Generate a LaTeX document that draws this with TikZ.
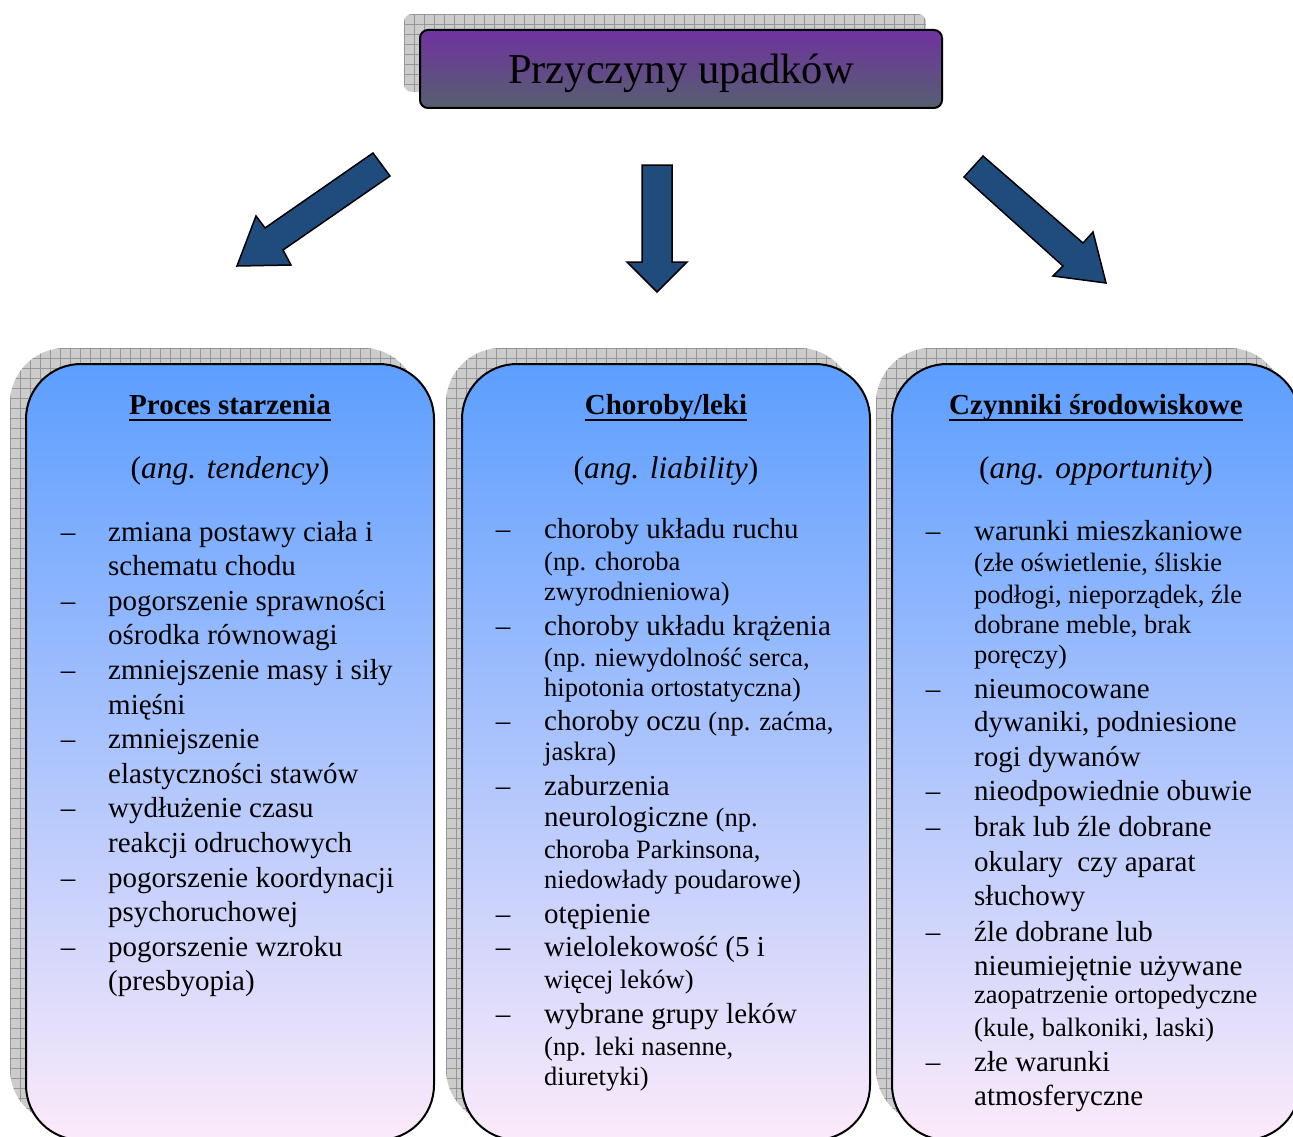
\documentclass[tikz,border=0pt]{standalone}
\usepackage{fontspec}
\setmainfont{Liberation Serif}
\definecolor{boxtop}{RGB}{92,158,255}
\definecolor{boxmid}{RGB}{168,202,246}
\definecolor{boxbot}{RGB}{252,234,250}
\definecolor{titletop}{RGB}{112,50,160}
\definecolor{titlebot}{RGB}{86,96,112}
\definecolor{arrowblue}{RGB}{32,75,125}
\definecolor{shadowgray}{RGB}{204,204,204}
\definecolor{gridgray}{RGB}{150,150,150}
\newcommand\hdline[1]{\setbox0\hbox{\bfseries #1}\rlap{\rule[-7pt]{\wd0}{2pt}}\box0}
\newcommand\sm{\fontsize{26.5}{31}\selectfont}
\tikzset{
  catbox/.style={draw=black,line width=2,rounded corners=55,top color=boxtop,middle color=boxmid,bottom color=boxbot},
  titlebox/.style={draw=black,line width=2,rounded corners=8,top color=titletop,bottom color=titlebot},
  bigarrow/.style={fill=arrowblue,draw=black,line width=1.5,line join=miter},
  itm/.style={anchor=base west,inner sep=0,font=\fontsize{29}{34}\selectfont},
  dsh/.style={anchor=base,inner sep=0,font=\fontsize{29}{34}\selectfont},
  heading/.style={anchor=base,inner sep=0,font=\fontsize{29}{34}\selectfont},
  subheading/.style={anchor=base,inner sep=0,font=\fontsize{31.5}{36}\selectfont}
}
\begin{document}
\begin{tikzpicture}[x=1pt,y=-1pt]
\clip (0,0) rectangle (1293,1137);
% shadows
\begin{scope}
  \clip[rounded corners=8] (404,14) rectangle (926,92);
  \fill[shadowgray] (404,14) rectangle (926,92);
  \foreach \gx in {0,10,...,520} \draw[gridgray,line width=0.8] (404+\gx,14) -- ++(0,78);
  \foreach \gy in {0,10,...,70} \draw[gridgray,line width=0.8] (404,14+\gy) -- ++(522,0);
\end{scope}
\foreach \x in {10,446,876}{
  \begin{scope}
    \clip[rounded corners=55] (\x,348) rectangle ++(408,776);
    \fill[shadowgray] (\x,348) rectangle ++(408,776);
    \foreach \gx in {0,10,...,400} \draw[gridgray,line width=0.8] (\x+\gx,348) -- ++(0,776);
    \foreach \gy in {0,10,...,770} \draw[gridgray,line width=0.8] (\x,348+\gy) -- ++(408,0);
  \end{scope}
}
% title
\draw[titlebox] (420,30) rectangle (942,108);
\node[anchor=base,inner sep=0,font=\fontsize{42.5}{48}\selectfont] (title) at (681,84) {Przyczyny upadków};
% arrows
\draw[bigarrow] (373,153) -- (390,176) -- (283,250) -- (291,265) -- (237,266) -- (256,216) -- (265,228) -- cycle;
\draw[bigarrow] (642,165) -- (672,165) -- (672,262) -- (687,262) -- (657,292) -- (627,262) -- (642,262) -- cycle;
\draw[bigarrow] (983,156) -- (1083,243) -- (1093,232) -- (1106,283) -- (1053,276) -- (1063,266) -- (964,177) -- cycle;
% boxes
\draw[catbox] (26,364) rectangle ++(408,776);
\draw[catbox] (462,364) rectangle ++(408,776);
\draw[catbox] (892,364) rectangle ++(408,776);
% headings
\node[heading] (h1) at (230,414) {\hdline{Proces starzenia}};
\node[heading] (h2) at (666,414) {\hdline{Choroby/leki}};
\node[heading] (h3) at (1096,414) {\hdline{Czynniki środowiskowe}};
\node[subheading] (a1) at (230,478) {(\textit{ang. tendency})};
\node[subheading] (a2) at (666,478) {(\textit{ang. liability})};
\node[subheading] (a3) at (1096,478) {(\textit{ang. opportunity})};
% left box
\foreach \y/\t [count=\i] in {541/{zmiana postawy ciała i},575.6/{schematu chodu},
  610.2/{pogorszenie sprawności},644.8/{ośrodka równowagi},679.4/{zmniejszenie masy i siły},
  714/{mięśni},748.6/{zmniejszenie},783.2/{elastyczności stawów},817.8/{wydłużenie czasu},
  852.4/{reakcji odruchowych},887/{pogorszenie koordynacji},921.6/{psychoruchowej},
  956.2/{pogorszenie wzroku},990.8/{(presbyopia)}}
  \node[itm] (p\i) at (108,\y) {\t};
\foreach \y [count=\i] in {541,610.2,679.4,748.6,817.8,887,956.2}
  \node[dsh] (pd\i) at (68,\y) {–};
% middle box
\foreach \y/\t [count=\i] in {538/{choroby układu ruchu},570/{\sm (np. choroba},
  600/{\sm zwyrodnieniowa)},635/{choroby układu krążenia},666.7/{\sm (np. niewydolność serca,},
  696.7/{\sm hipotonia ortostatyczna)},730/{choroby oczu {\sm (np. zaćma,}},760/{\sm jaskra)},
  795/{zaburzenia},826.7/{neurologiczne\ {\sm (np.}},858.3/{\sm choroba Parkinsona,},
  888.3/{\sm niedowłady poudarowe)},923.3/{otępienie},956.7/{wielolekowość (5 i},
  988.3/{\sm więcej leków)},1023.3/{wybrane grupy leków},1055/{\sm (np. leki nasenne,},
  1085/{\sm diuretyki)}}
  \node[itm] (c\i) at (544,\y) {\t};
\foreach \y [count=\i] in {538,635,730,795,923.3,956.7,1023.3}
  \node[dsh] (cd\i) at (503,\y) {–};
% right box
\foreach \y/\t [count=\i] in {540/{warunki mieszkaniowe},571.7/{\sm (złe oświetlenie, śliskie},
  603.3/{\sm podłogi, nieporządek, źle},633.3/{\sm dobrane meble, brak},663.3/{\sm poręczy)},
  698.3/{nieumocowane},731.7/{dywaniki, podniesione},766.7/{rogi dywanów},
  800/{nieodpowiednie obuwie},836.7/{brak lub źle dobrane},871.7/{okulary\ \ czy aparat},
  905/{słuchowy},941.7/{źle dobrane lub},975/{nieumiejętnie używane},
  1003.3/{\sm zaopatrzenie ortopedyczne},1036.7/{\sm (kule, balkoniki, laski)},
  1071.7/{złe warunki},1105/{atmosferyczne}}
  \node[itm] (s\i) at (974,\y) {\t};
\foreach \y [count=\i] in {540,698.3,800,836.7,941.7,1071.7}
  \node[dsh] (sd\i) at (933,\y) {–};
\end{tikzpicture}
\end{document}
